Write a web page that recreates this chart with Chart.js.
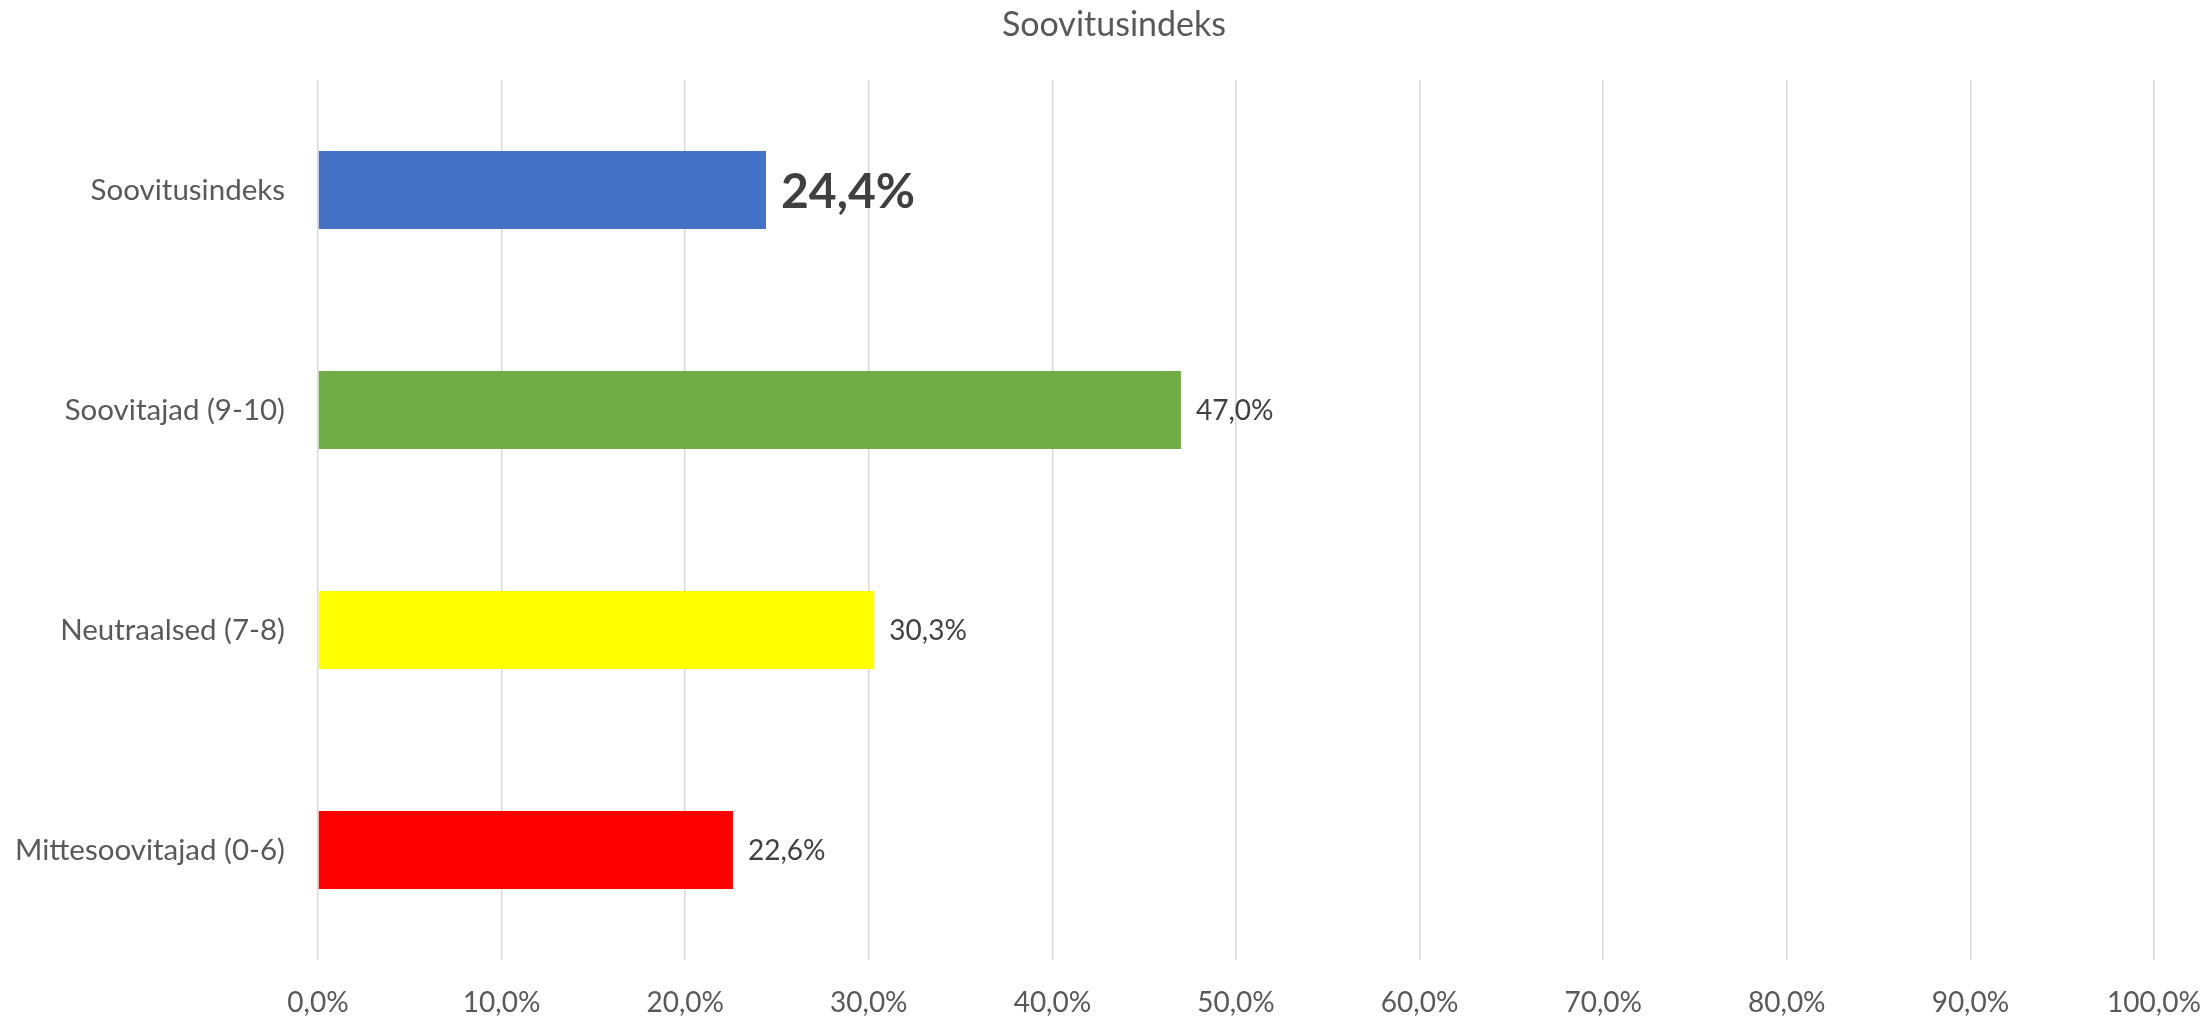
<!DOCTYPE html>
<html>
<head>
<meta charset="utf-8">
<script src="https://cdn.jsdelivr.net/npm/chart.js@4.4.1/dist/chart.umd.min.js"></script>
<style>
  html, body { margin: 0; padding: 0; background: #ffffff; }
  #wrap { width: 2211px; height: 1018px; }
</style>
</head>
<body>
<div id="wrap"><canvas id="c" width="2211" height="1018"></canvas></div>
<script>
const chartTitle = 'Soovitusindeks';
const categories = ['Soovitusindeks', 'Soovitajad (9-10)', 'Neutraalsed (7-8)', 'Mittesoovitajad (0-6)'];
const values = [24.4, 47.0, 30.3, 22.6];
const barColors = ['#4472C4', '#70AD47', '#FFFF00', '#FF0000'];
const boldLabel = [true, false, false, false];
const xTicks = [0, 10, 20, 30, 40, 50, 60, 70, 80, 90, 100];

const FONT = 'Lato, "Open Sans", sans-serif';
const fmt = v => v.toFixed(1).replace('.', ',') + '%';

const valueLabels = {
  id: 'valueLabels',
  afterLayout(chart) {
    // centre the title a little right of the canvas centre, as in the reference
    if (chart.titleBlock) { chart.titleBlock.left = 74; }
  },
  afterDatasetsDraw(chart) {
    const ctx = chart.ctx;
    const meta = chart.getDatasetMeta(0);
    ctx.save();
    ctx.textBaseline = 'middle';
    ctx.textAlign = 'left';
    meta.data.forEach((bar, i) => {
      const big = boldLabel[i];
      ctx.font = (big ? 'bold 48px ' : '28px ') + FONT;
      ctx.fillStyle = '#404040';
      ctx.fillText(fmt(values[i]), bar.x + 15, bar.y + (big ? 3 : 1));
    });
    ctx.restore();
  }
};

new Chart(document.getElementById('c'), {
  type: 'bar',
  data: {
    labels: categories,
    datasets: [{
      data: values,
      backgroundColor: barColors,
      borderWidth: 0,
      categoryPercentage: 1,
      barPercentage: 78 / 220
    }]
  },
  options: {
    indexAxis: 'y',
    responsive: false,
    animation: false,
    devicePixelRatio: 1,
    layout: { padding: { left: 0, right: 57, top: 0, bottom: 0 } },
    plugins: {
      legend: { display: false },
      tooltip: { enabled: false },
      title: {
        display: true,
        text: chartTitle,
        color: '#595959',
        font: { family: FONT, size: 34, weight: 'normal', lineHeight: 1.2 },
        padding: { top: 4.6, bottom: 34.6 }
      }
    },
    scales: {
      x: {
        min: 0,
        max: 100,
        afterBuildTicks: (scale) => { scale.ticks = xTicks.map(v => ({ value: v })); },
        afterFit: (scale) => { scale.height = 58; scale.paddingLeft = 0; scale.paddingRight = 0; },
        grid: { color: '#d9d9d9', lineWidth: 1.5, drawTicks: false },
        border: { display: false },
        ticks: {
          color: '#595959',
          padding: 26,
          font: { family: FONT, size: 28 },
          callback: (v) => fmt(v)
        }
      },
      y: {
        afterFit: (scale) => { scale.width = 318; },
        grid: { display: false, drawTicks: false },
        border: { display: false },
        ticks: {
          color: '#595959',
          padding: 33,
          font: { family: FONT, size: 29.5 }
        }
      }
    }
  },
  plugins: [valueLabels]
});
</script>
</body>
</html>
